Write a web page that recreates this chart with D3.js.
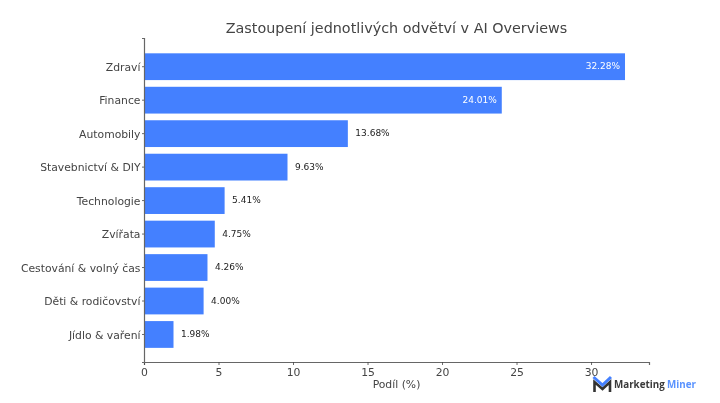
<!DOCTYPE html>
<html>
<head>
<meta charset="utf-8">
<script src="https://cdn.jsdelivr.net/npm/d3@7/dist/d3.min.js"></script>
<style>
html,body{margin:0;padding:0;background:#fff;overflow:hidden}
svg{display:block;filter:blur(0.4px)}
text{font-family:"DejaVu Sans",sans-serif}
</style>
</head>
<body>
<svg id="c" width="720" height="403"></svg>
<script>
const categories = ["Zdraví","Finance","Automobily","Stavebnictví & DIY","Technologie","Zvířata","Cestování & volný čas","Děti & rodičovství","Jídlo & vaření"];
const values = [32.28,24.01,13.68,9.63,5.41,4.75,4.26,4.00,1.98];
const xTicks = [0,5,10,15,20,25,30];
const titleText = "Zastoupení jednotlivých odvětví v AI Overviews";
const xLabel = "Podíl (%)";

const m = {left:144,right:649,top:38,bottom:362};
const svg = d3.select("#c");
const x = d3.scaleLinear().domain([0,33.89]).range([m.left,m.right]);
const y = d3.scaleBand().domain(categories).range([m.top,m.bottom]).paddingInner(0.2).paddingOuter(0.44).align(0.52);
const ink = "#444";

svg.selectAll("rect.bar").data(values).join("rect").attr("class","bar")
  .attr("x",x(0)).attr("y",(d,i)=>y(categories[i]))
  .attr("width",d=>x(d)-x(0)).attr("height",y.bandwidth()).attr("fill","#4480ff");

svg.selectAll("text.val").data(values).join("text").attr("class","val")
  .attr("x",d=>d>20?x(d)-5:x(d)+7.5)
  .attr("y",(d,i)=>y(categories[i])+y.bandwidth()/2)
  .attr("dy","0.3em").attr("font-size",9)
  .attr("text-anchor",d=>d>20?"end":"start")
  .attr("fill",d=>d>20?"#fff":"#222")
  .text(d=>d.toFixed(2)+"%");

const gx = svg.append("g").attr("transform",`translate(0,${m.bottom})`)
  .call(d3.axisBottom(x).tickValues(xTicks).tickSize(3).tickPadding(3).tickFormat(d3.format("d")));
const gy = svg.append("g").attr("transform",`translate(${m.left},0)`)
  .call(d3.axisLeft(y).tickSize(2).tickPadding(1.5));
[gx,gy].forEach(g=>{
  g.selectAll("text").attr("font-size",10.8).attr("fill",ink).style("font-family",'"DejaVu Sans"');
  g.selectAll(".tick line").attr("stroke",ink).attr("stroke-width",0.8);
  g.select(".domain").attr("stroke","#666").attr("stroke-width",1.2);
});
gy.selectAll("text").attr("dy","0.38em");

svg.append("text").attr("x",396.5).attr("y",33).attr("text-anchor","middle")
  .attr("font-size",14.35).attr("fill",ink).text(titleText);
svg.append("text").attr("x",396.5).attr("y",388).attr("text-anchor","middle")
  .attr("font-size",10.8).attr("fill",ink).text(xLabel);

// logo
const logo = svg.append("g");
logo.append("path").attr("d","M594.5 392 L594.5 382 L602.5 389 L610 382 L610 392")
  .attr("fill","none").attr("stroke","#333").attr("stroke-width",2.6);
logo.append("path").attr("d","M593.5 377 L602.5 385 L611 377")
  .attr("fill","none").attr("stroke","#4480ff").attr("stroke-width",3);
logo.append("text").attr("x",614).attr("y",388).attr("font-size",9.8).attr("font-weight",700)
  .style("font-family",'"Open Sans"').attr("fill","#3a3a3a").text("Marketing");
logo.append("text").attr("x",667).attr("y",388).attr("font-size",9.8).attr("font-weight",700)
  .style("font-family",'"Open Sans"').attr("fill","#5a93ff").text("Miner");
</script>
</body>
</html>
